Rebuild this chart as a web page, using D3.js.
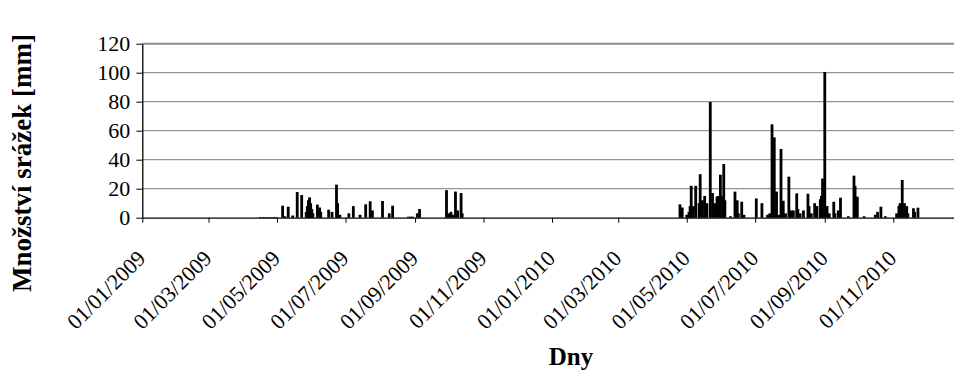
<!DOCTYPE html>
<html>
<head>
<meta charset="utf-8">
<title>Množství srážek</title>
<script src="https://d3js.org/d3.v7.min.js"></script>
<style>
  body { margin: 0; background: #fff; }
  svg, svg text { font-family: "Liberation Serif", "Times New Roman", serif; }
</style>
</head>
<body>
<div id="chart"></div>
<script>
// days with rain (all other days are 0)
var rainDates = [
  "2009-04-16","2009-04-19","2009-04-22","2009-04-25","2009-04-28","2009-04-30",
  "2009-05-06","2009-05-08","2009-05-11","2009-05-15","2009-05-19","2009-05-23",
  "2009-05-27","2009-05-28","2009-05-29","2009-05-30","2009-05-31","2009-06-01","2009-06-02",
  "2009-06-06","2009-06-08","2009-06-09","2009-06-16","2009-06-19","2009-06-23","2009-06-24","2009-06-26",
  "2009-07-04","2009-07-08","2009-07-14","2009-07-19","2009-07-23","2009-07-25",
  "2009-08-03","2009-08-09","2009-08-12","2009-08-26","2009-08-28","2009-08-30",
  "2009-09-03","2009-09-05","2009-09-29","2009-10-01","2009-10-03","2009-10-05",
  "2009-10-07","2009-10-09","2009-10-12","2009-10-13",
  "2010-04-25","2010-04-27","2010-05-01","2010-05-03","2010-05-04","2010-05-05","2010-05-07",
  "2010-05-09","2010-05-12","2010-05-13","2010-05-15","2010-05-17","2010-05-19","2010-05-22",
  "2010-05-24","2010-05-26","2010-05-28","2010-05-29","2010-05-31","2010-06-02","2010-06-03",
  "2010-06-04","2010-06-09","2010-06-13","2010-06-15","2010-06-16","2010-06-19","2010-06-21",
  "2010-07-02","2010-07-07","2010-07-12","2010-07-14","2010-07-16","2010-07-18","2010-07-20",
  "2010-07-22","2010-07-24","2010-07-26","2010-07-28","2010-07-31","2010-08-02","2010-08-04",
  "2010-08-07","2010-08-08","2010-08-10","2010-08-13","2010-08-17","2010-08-18","2010-08-20",
  "2010-08-23","2010-08-25","2010-08-28","2010-08-29","2010-08-30","2010-09-01","2010-09-03",
  "2010-09-05","2010-09-09","2010-09-10","2010-09-13","2010-09-15","2010-09-22","2010-09-27",
  "2010-09-28","2010-09-30","2010-10-06","2010-10-16","2010-10-18","2010-10-21","2010-10-25",
  "2010-11-04","2010-11-06","2010-11-07","2010-11-09","2010-11-11","2010-11-13","2010-11-14",
  "2010-11-19","2010-11-20","2010-11-23"
];
var rainValues = [
  0.5,0.5,0.5,0.5,0.5,0.5,
  8.3,1,7.6,1.5,17.7,15.6,
  4,8,12,14,10,6,3,
  9,7,4,5.5,4,22.8,10,2,
  3,8,2,9.2,11.3,5,
  11.5,3,8.3,0.7,0.7,0.7,
  3,6,19,3,4,2,
  18,5,17,3,
  9.2,7,2,4,8,22,8,
  22,10,30,12,15,10,79.8,
  17,10,14.5,15,29.7,15,37,
  12,1,18,12,3,11,2,
  13.3,10,2,3,64.4,55.4,18,
  2,47.4,11.7,3,28.3,5,5,
  16.8,6,3,5,16.5,8,3,
  10,8,12.7,15,27,100.5,8,
  3,11,3,5,13.8,1,29,
  22,14.5,1,2,4,7.6,1,
  3,8,10,26,10,8,3,
  6.5,4,6.9
];
var yTicks = [0, 20, 40, 60, 80, 100, 120];
var xStart = "2009-01-01", xEnd = "2011-01-01";

var width = 954, height = 371;
var parse = d3.utcParse("%Y-%m-%d");
var fmt = d3.utcFormat("%d/%m/%Y");

var svg = d3.select("#chart").append("svg")
  .attr("width", width)
  .attr("height", height);

var x = d3.scaleUtc()
  .domain([parse(xStart), parse(xEnd)])
  .range([142.3, 142.3 + 730 * 1.1225]);

var y = d3.scaleLinear().domain([0, 120]).range([217.7, 43.7]);

// gridlines
svg.append("g")
  .selectAll("line")
  .data(yTicks.slice(1))
  .enter().append("line")
  .attr("x1", x.range()[0])
  .attr("x2", width)
  .attr("y1", function(d) { return y(d); })
  .attr("y2", function(d) { return y(d); })
  .attr("stroke", function(d) { return d == 120 ? "#8c8c8c" : "#7a7a7a"; })
  .attr("stroke-width", function(d) { return d == 120 ? 2 : 1; });

// bars
var data = rainDates.map(function(d, i) { return { date: parse(d), value: rainValues[i] }; });
svg.append("g")
  .selectAll("rect")
  .data(data)
  .enter().append("rect")
  .attr("x", function(d) { return x(d.date) - 1.4; })
  .attr("width", 2.8)
  .attr("y", function(d) { return y(d.value); })
  .attr("height", function(d) { return y(0) - y(d.value); })
  .attr("fill", "#000");

// y axis
var yAxis = svg.append("g")
  .attr("transform", "translate(" + x.range()[0] + ",0)")
  .call(d3.axisLeft(y).tickValues(yTicks).tickSize(6).tickSizeOuter(0).tickPadding(6));
yAxis.attr("font-family", null);
yAxis.selectAll("text").style("font-size", "22px").attr("fill", "#000");

// x axis
var xAxis = svg.append("g")
  .attr("transform", "translate(0," + y(0) + ")")
  .call(d3.axisBottom(x).ticks(d3.utcMonth.every(2)).tickFormat(fmt).tickSize(5).tickSizeOuter(0));
xAxis.attr("font-family", null);
xAxis.selectAll(".tick").filter(function(d) { return d >= parse("2010-12-01"); }).remove();
xAxis.selectAll("text")
  .style("font-size", "22px")
  .attr("fill", "#000")
  .attr("y", null).attr("dy", null)
  .attr("text-anchor", "end")
  .attr("transform", "translate(4,42) rotate(-45)");

svg.selectAll(".domain").attr("stroke", "#000").attr("stroke-width", 1.3);
svg.selectAll(".tick line").attr("stroke", "#000");

// axis titles
svg.append("text")
  .attr("x", 571)
  .attr("y", 365)
  .attr("text-anchor", "middle")
  .style("font-size", "25px")
  .style("font-weight", "bold")
  .text("Dny");

svg.append("text")
  .attr("transform", "translate(31,163) rotate(-90)")
  .attr("text-anchor", "middle")
  .style("font-size", "27px")
  .style("font-weight", "bold")
  .text("Množství srážek [mm]");
</script>
</body>
</html>
